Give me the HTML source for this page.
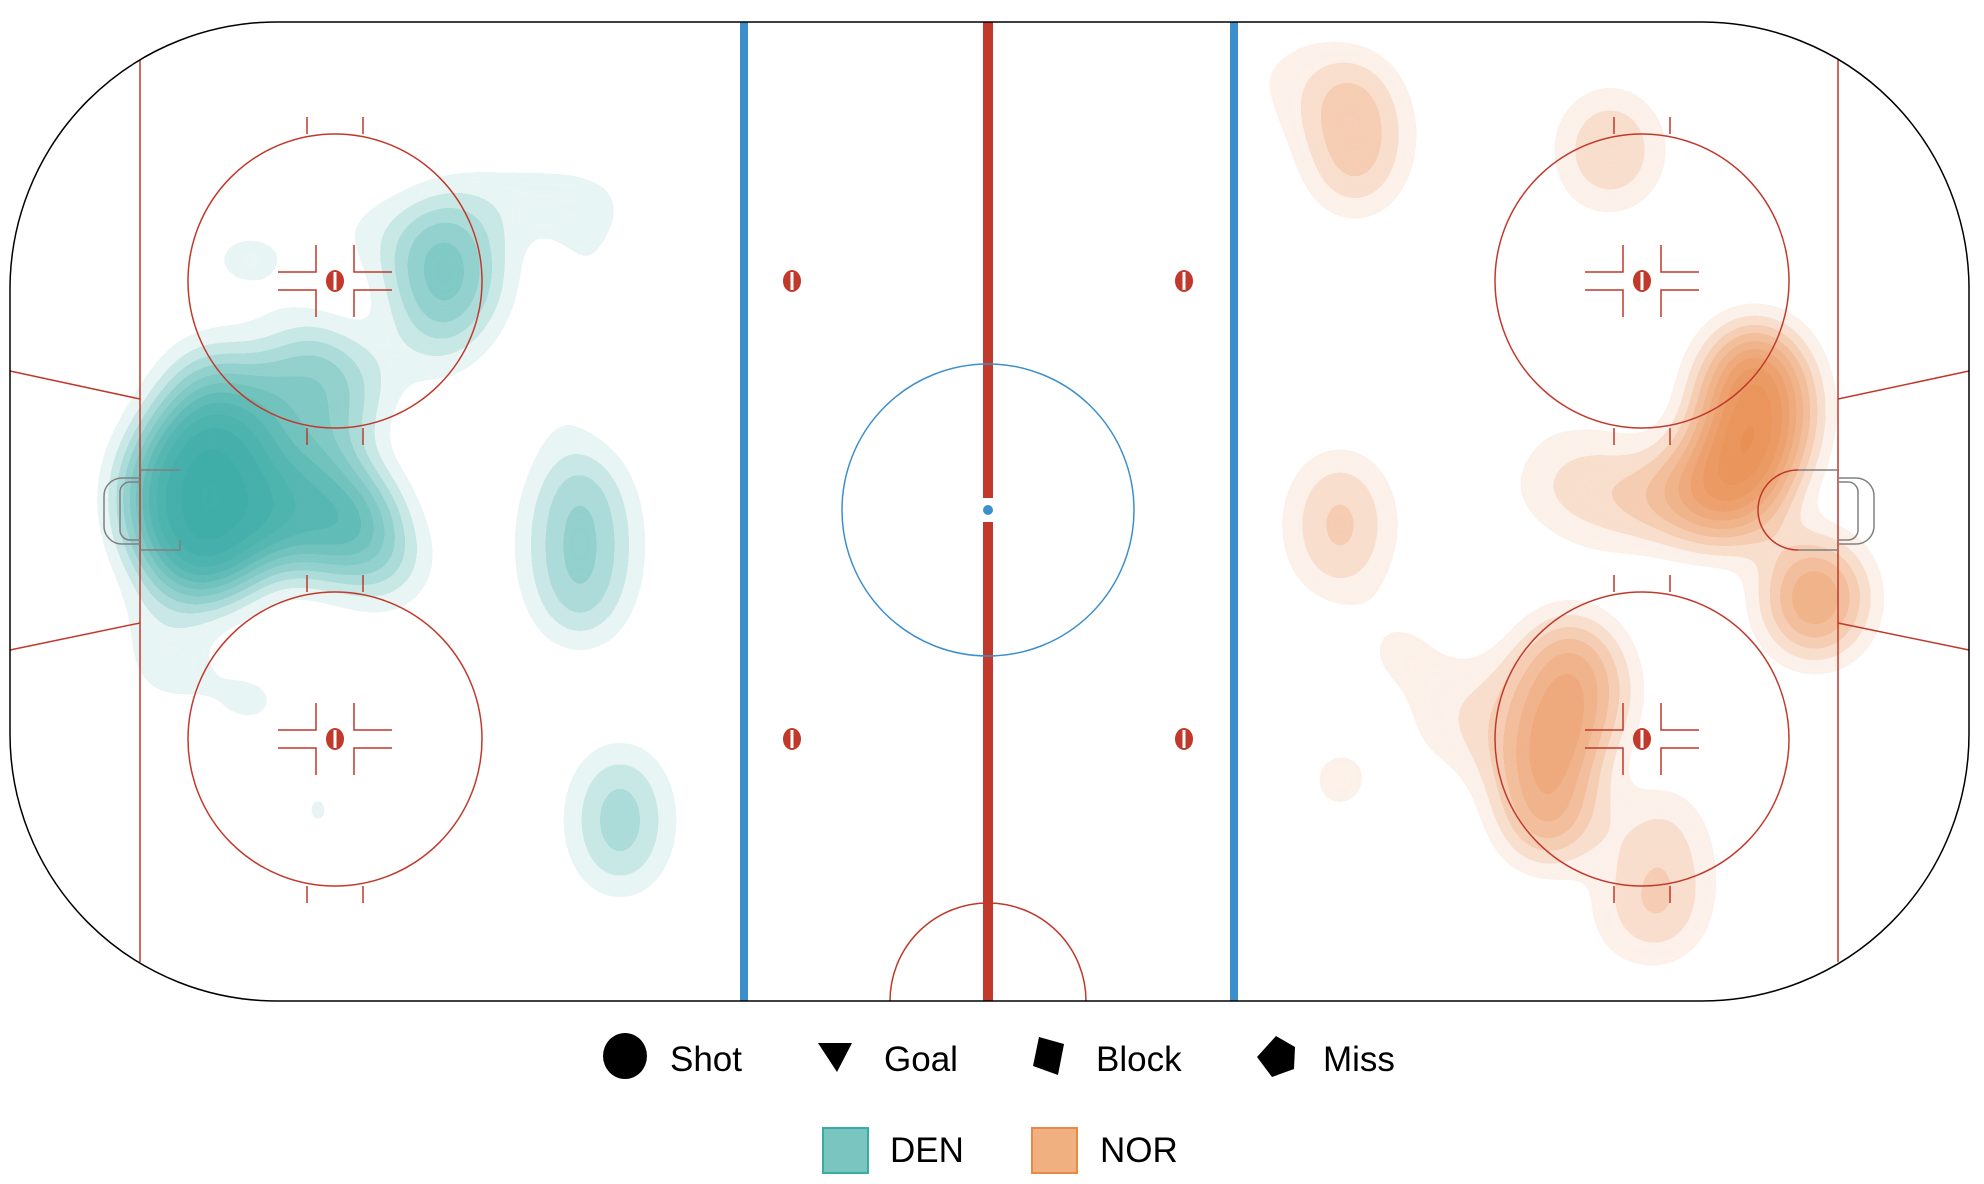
<!DOCTYPE html>
<html><head><meta charset="utf-8"><style>
html,body{margin:0;padding:0;background:#fff;}
svg{display:block;}
text{font-family:"Liberation Sans",sans-serif;}
</style></head><body>
<svg width="1984" height="1184" viewBox="0 0 1984 1184" xmlns="http://www.w3.org/2000/svg">
<defs>
<clipPath id="rink"><rect x="10" y="22" width="1959" height="979" rx="267" ry="267"/></clipPath>
<filter id="kde" x="-10%" y="-10%" width="120%" height="120%" color-interpolation-filters="sRGB">
<feGaussianBlur stdDeviation="28"/>
<feComponentTransfer><feFuncA type="discrete" tableValues="0 0.12 0.28 0.42 0.55 0.64 0.72 0.8 0.86 0.9 0.94 0.97"/></feComponentTransfer>
</filter>
<g id="hash">
<path d="M-57,-9H-19V-36M-57,9H-19V36M57,-9H19V-36M57,9H19V36" stroke="#c0392b" stroke-width="1.5" fill="none"/>
<path d="M-28,-147V-164M28,-147V-164M-28,147V164M28,147V164" stroke="#c0392b" stroke-width="1.5" fill="none"/>
</g>
<g id="dot"><ellipse cx="0" cy="0" rx="9" ry="11" fill="#c0392b"/><rect x="-1.5" y="-9" width="3" height="18" fill="#fff"/></g>
</defs>
<rect x="10" y="22" width="1959" height="979" rx="267" ry="267" fill="#fff"/>
<g clip-path="url(#rink)">
<!-- DEN -->
<g filter="url(#kde)" fill="#3aaba5">
<ellipse cx="205" cy="500" rx="75" ry="95" opacity="0.9"/>
<ellipse cx="215" cy="470" rx="60" ry="120" opacity="0.55"/>
<ellipse cx="320" cy="515" rx="70" ry="55" opacity="0.7"/>
<ellipse cx="310" cy="400" rx="60" ry="70" opacity="0.45"/>
<ellipse cx="380" cy="560" rx="40" ry="40" opacity="0.35"/>
<ellipse cx="445" cy="275" rx="50" ry="65" opacity="0.5"/>
<ellipse cx="530" cy="200" rx="110" ry="35" opacity="0.14"/>
<ellipse cx="590" cy="290" rx="30" ry="80" opacity="0.1"/>
<ellipse cx="380" cy="230" rx="60" ry="30" opacity="0.12"/>
<ellipse cx="250" cy="260" rx="60" ry="40" opacity="0.12"/>
<ellipse cx="420" cy="360" rx="60" ry="30" opacity="0.12"/>
<ellipse cx="580" cy="545" rx="45" ry="95" opacity="0.4"/>
<ellipse cx="560" cy="400" rx="20" ry="60" opacity="0.12"/>
<ellipse cx="165" cy="640" rx="40" ry="70" opacity="0.15"/>
<ellipse cx="250" cy="700" rx="50" ry="40" opacity="0.12"/>
<ellipse cx="318" cy="810" rx="30" ry="60" opacity="0.13"/>
<ellipse cx="620" cy="820" rx="40" ry="70" opacity="0.35"/>
<ellipse cx="737" cy="452" rx="22" ry="22" opacity="0.15"/>
<ellipse cx="1725" cy="60" rx="22" ry="24" opacity="0.14"/>
<ellipse cx="1852" cy="672" rx="22" ry="24" opacity="0.15"/>
</g>
<!-- NOR -->
<g filter="url(#kde)" fill="#e8894a">
<ellipse cx="1755" cy="410" rx="50" ry="80" opacity="0.85"/>
<ellipse cx="1730" cy="480" rx="55" ry="60" opacity="0.65"/>
<ellipse cx="1680" cy="500" rx="60" ry="40" opacity="0.35"/>
<ellipse cx="1815" cy="598" rx="45" ry="55" opacity="0.6"/>
<ellipse cx="1600" cy="490" rx="50" ry="60" opacity="0.18"/>
<ellipse cx="1570" cy="690" rx="50" ry="70" opacity="0.55"/>
<ellipse cx="1548" cy="790" rx="45" ry="70" opacity="0.55"/>
<ellipse cx="1500" cy="720" rx="60" ry="60" opacity="0.15"/>
<ellipse cx="1355" cy="135" rx="45" ry="75" opacity="0.35"/>
<ellipse cx="1300" cy="80" rx="60" ry="50" opacity="0.1"/>
<ellipse cx="1195" cy="55" rx="30" ry="30" opacity="0.14"/>
<ellipse cx="1610" cy="150" rx="45" ry="55" opacity="0.3"/>
<ellipse cx="1526" cy="260" rx="30" ry="40" opacity="0.12"/>
<ellipse cx="1527" cy="380" rx="30" ry="40" opacity="0.12"/>
<ellipse cx="1340" cy="525" rx="45" ry="70" opacity="0.3"/>
<ellipse cx="1400" cy="650" rx="50" ry="40" opacity="0.12"/>
<ellipse cx="1340" cy="780" rx="45" ry="50" opacity="0.12"/>
<ellipse cx="1450" cy="720" rx="60" ry="50" opacity="0.08"/>
<ellipse cx="1552" cy="483" rx="50" ry="40" opacity="0.12"/>
<ellipse cx="1660" cy="870" rx="45" ry="80" opacity="0.25"/>
<ellipse cx="1640" cy="920" rx="60" ry="50" opacity="0.1"/>
</g>
</g>
<!-- lines -->
<g fill="none">
<line x1="140" y1="60" x2="140" y2="962" stroke="#c0392b" stroke-width="1.5"/>
<line x1="1838" y1="60" x2="1838" y2="962" stroke="#c0392b" stroke-width="1.5"/>
<path d="M10,371L140,399M10,650L140,623M1969,371L1838,399M1969,650L1838,623" stroke="#c0392b" stroke-width="1.5"/>
<rect x="740" y="22" width="8" height="979" fill="#3d8fcc"/>
<rect x="1230" y="22" width="8" height="979" fill="#3d8fcc"/>
<rect x="983" y="22" width="10" height="979" fill="#c0392b"/>
<circle cx="988" cy="510" r="146" stroke="#3d8fcc" stroke-width="1.5"/>
<rect x="982" y="498" width="12" height="24" fill="#fff"/>
<circle cx="988" cy="510" r="5" fill="#3d8fcc"/>
<path d="M890,1001A98,98 0 0 1 1086,1001" stroke="#c0392b" stroke-width="1.5"/>
<circle cx="335" cy="281" r="147" stroke="#c0392b" stroke-width="1.5"/>
<circle cx="335" cy="739" r="147" stroke="#c0392b" stroke-width="1.5"/>
<circle cx="1642" cy="281" r="147" stroke="#c0392b" stroke-width="1.5"/>
<circle cx="1642" cy="739" r="147" stroke="#c0392b" stroke-width="1.5"/>
</g>
<use href="#hash" x="335" y="281"/><use href="#hash" x="335" y="739"/>
<use href="#hash" x="1642" y="281"/><use href="#hash" x="1642" y="739"/>
<use href="#dot" x="335" y="281"/><use href="#dot" x="335" y="739"/>
<use href="#dot" x="1642" y="281"/><use href="#dot" x="1642" y="739"/>
<use href="#dot" x="792" y="281"/><use href="#dot" x="1184" y="281"/>
<use href="#dot" x="792" y="739"/><use href="#dot" x="1184" y="739"/>
<!-- creases & nets -->
<g fill="none" stroke="#808080" stroke-width="1.5">
<path d="M140,470H180M140,550H180V540"/>
<path d="M140,478H122A18,18 0 0 0 104,496V526A18,18 0 0 0 122,544H140"/>
<path d="M140,482H130A10,10 0 0 0 120,492V530A10,10 0 0 0 130,540H140"/>
<path d="M1838,470H1798M1838,550H1798"/>
<path d="M1838,478H1856A18,18 0 0 1 1874,496V526A18,18 0 0 1 1856,544H1838"/>
<path d="M1838,482H1848A10,10 0 0 1 1858,492V530A10,10 0 0 1 1848,540H1838"/>
</g>
<path d="M1798,470A40,40 0 0 0 1798,550" fill="none" stroke="#c0392b" stroke-width="1.5"/>
<rect x="10" y="22" width="1959" height="979" rx="267" ry="267" fill="none" stroke="#000" stroke-width="1.5"/>
<!-- legend -->
<ellipse cx="625" cy="1056" rx="22" ry="23" fill="#000"/>
<text x="670" y="1071" font-size="35">Shot</text>
<path d="M818,1043H852L837,1072Z" fill="#000"/>
<text x="884" y="1071" font-size="35">Goal</text>
<path d="M1039,1037L1064,1044L1058,1075L1033,1066Z" fill="#000"/>
<text x="1096" y="1071" font-size="35">Block</text>
<path d="M1276,1036L1295,1047L1294,1069L1272,1077L1257,1057Z" fill="#000"/>
<text x="1323" y="1071" font-size="35">Miss</text>
<rect x="823" y="1128" width="45" height="45" fill="#7bc5c1" stroke="#3aaba5" stroke-width="2"/>
<text x="890" y="1162" font-size="35">DEN</text>
<rect x="1032" y="1128" width="45" height="45" fill="#f0b080" stroke="#e8894a" stroke-width="2"/>
<text x="1100" y="1162" font-size="35">NOR</text>
</svg>
</body></html>
